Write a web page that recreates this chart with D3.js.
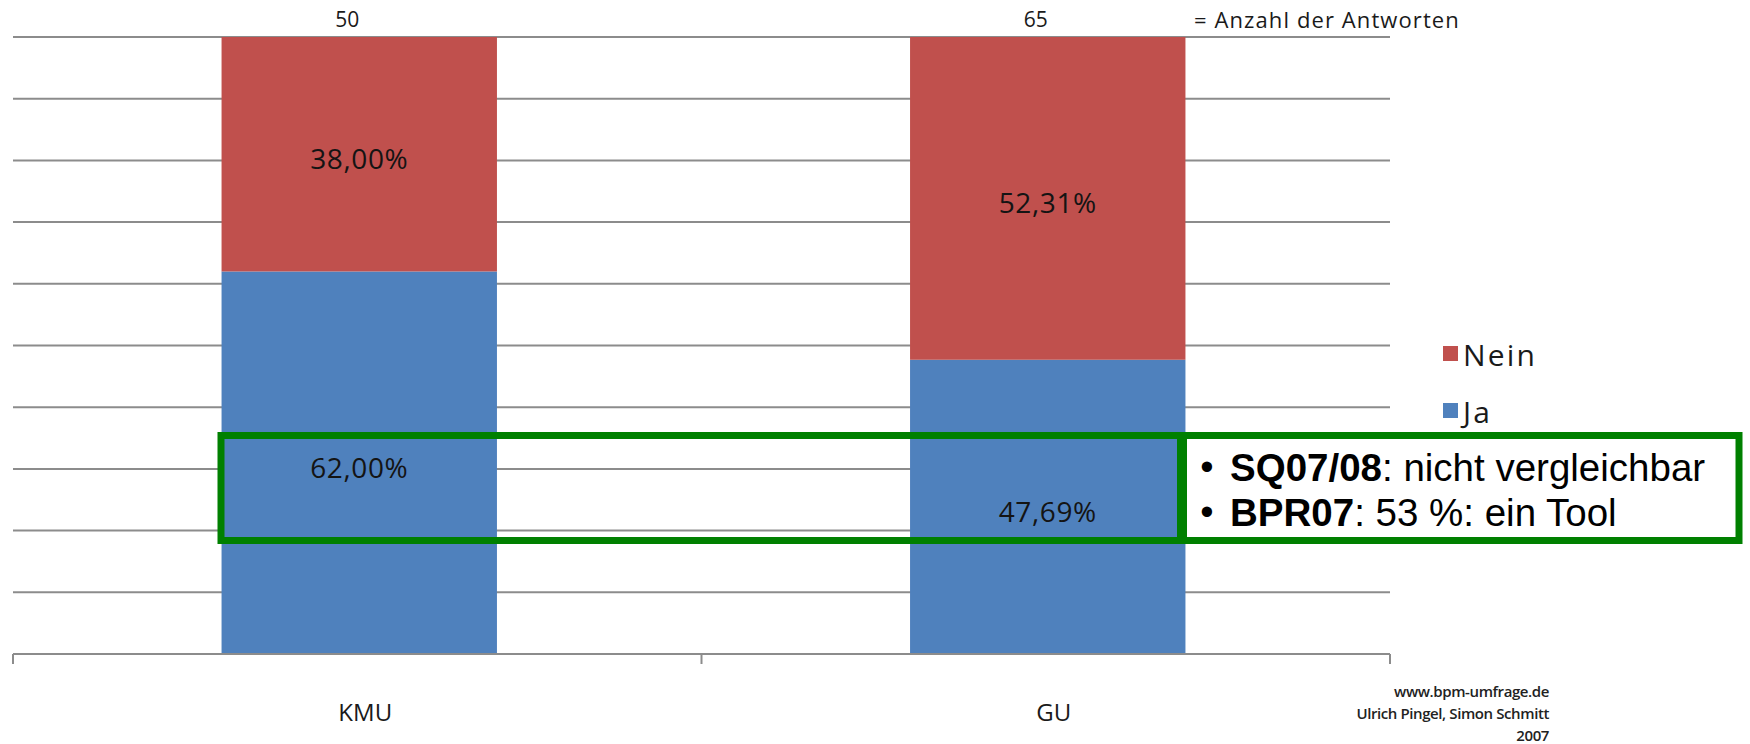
<!DOCTYPE html>
<html>
<head>
<meta charset="utf-8">
<script src="https://cdn.jsdelivr.net/npm/d3@7"></script>
<style>
  body { margin: 0; background: #fff; }
  svg { display: block; }
</style>
</head>
<body>
<div id="chart"></div>
<script>
// chart data
var categories = ["KMU", "GU"];
var jaValues = [62.00, 47.69];
var neinValues = [38.00, 52.31];
var responseCounts = [50, 65];
var yTicks = [0, 10, 20, 30, 40, 50, 60, 70, 80, 90, 100];
var legendLabels = ["Nein", "Ja"];
var noteLines = [["SQ07/08", ": nicht vergleichbar"], ["BPR07", ": 53 %: ein Tool"]];
var sourceLines = ["www.bpm-umfrage.de", "Ulrich Pingel, Simon Schmitt", "2007"];

var W = 1750, H = 744;
var colors = {Ja: "#4f81bd", Nein: "#c0504d"};
var fontMain = "'Open Sans', sans-serif";

var svg = d3.select("#chart")
  .append("svg")
  .attr("width", W)
  .attr("height", H);

//plot area (window.top is reserved, so use other names)
var plotLeft = 13, plotRight = 1390, plotTop = 37, plotBottom = 654;

var xScale = d3.scaleBand()
  .domain(categories)
  .range([plotLeft, plotRight])
  .padding(0);

var yScale = d3.scaleLinear()
  .domain([0, 100])
  .range([plotBottom, plotTop]);

var barW = xScale.bandwidth() * 0.4;
var barShift = 2;

var deFormat = d3.formatLocale({decimal: ",", thousands: ".", grouping: [3], currency: ["", " €"]}).format(".2f");

//gridlines
svg.append("g")
  .selectAll("line")
  .data(yTicks.slice(1))
  .enter()
  .append("line")
  .attr("x1", plotLeft)
  .attr("x2", plotRight)
  .attr("y1", function(d) { return yScale(d); })
  .attr("y2", function(d) { return yScale(d); })
  .attr("stroke", "#8c8c8c")
  .attr("stroke-width", 2);

//stacked bars
var rows = categories.map(function(c, i) {
  return {cat: c, Ja: jaValues[i], Nein: neinValues[i]};
});
var stack = d3.stack().keys(["Ja", "Nein"])(rows);

var layers = svg.selectAll(".layer")
  .data(stack)
  .enter()
  .append("g")
  .attr("class", "layer")
  .attr("fill", function(d) { return colors[d.key]; });

layers.selectAll("rect")
  .data(function(d) { return d; })
  .enter()
  .append("rect")
  .attr("x", function(d) { return xScale(d.data.cat) + (xScale.bandwidth() - barW) / 2 + barShift; })
  .attr("y", function(d) { return yScale(d[1]); })
  .attr("width", barW)
  .attr("height", function(d) { return yScale(d[0]) - yScale(d[1]); });

//value labels
layers.selectAll("text")
  .data(function(d) { return d; })
  .enter()
  .append("text")
  .attr("x", function(d) { return xScale(d.data.cat) + xScale.bandwidth() / 2 + barShift; })
  .attr("y", function(d) { return (yScale(d[0]) + yScale(d[1])) / 2 + 4; })
  .attr("text-anchor", "middle")
  .attr("dominant-baseline", "central")
  .attr("fill", "#141414")
  .style("font-family", fontMain)
  .style("font-size", "28px")
  .style("letter-spacing", "0.6px")
  .text(function(d) { return deFormat(d[1] - d[0]) + "%"; });

//x axis line and ticks
svg.append("line")
  .attr("x1", plotLeft).attr("x2", plotRight)
  .attr("y1", plotBottom).attr("y2", plotBottom)
  .attr("stroke", "#8c8c8c")
  .attr("stroke-width", 2);

var tickPos = categories.map(function(c) { return xScale(c); }).concat([plotRight]);
svg.append("g")
  .selectAll("line")
  .data(tickPos)
  .enter()
  .append("line")
  .attr("x1", function(d) { return d; })
  .attr("x2", function(d) { return d; })
  .attr("y1", plotBottom)
  .attr("y2", plotBottom + 10)
  .attr("stroke", "#8c8c8c")
  .attr("stroke-width", 2);

//category labels
svg.append("g")
  .selectAll("text")
  .data(categories)
  .enter()
  .append("text")
  .attr("x", function(d) { return xScale(d) + xScale.bandwidth() / 2 + 8; })
  .attr("y", 711)
  .attr("text-anchor", "middle")
  .attr("dominant-baseline", "central")
  .attr("fill", "#1a1a1a")
  .style("font-family", fontMain)
  .style("font-size", "24px")
  .text(function(d) { return d; });

//response counts on top
svg.append("g")
  .selectAll("text")
  .data(responseCounts)
  .enter()
  .append("text")
  .attr("x", function(d, i) { return xScale(categories[i]) + xScale.bandwidth() / 2 - 10; })
  .attr("y", 19)
  .attr("text-anchor", "middle")
  .attr("dominant-baseline", "central")
  .attr("fill", "#1a1a1a")
  .style("font-family", fontMain)
  .style("font-size", "21px")
  .text(function(d) { return d; });

svg.append("text")
  .attr("x", 1194)
  .attr("y", 19)
  .attr("dominant-baseline", "central")
  .attr("fill", "#1a1a1a")
  .style("font-family", fontMain)
  .style("font-size", "22px")
  .style("letter-spacing", "1.1px")
  .text("= Anzahl der Antworten");

//legend
var legend = svg.append("g")
  .selectAll("g")
  .data(legendLabels)
  .enter()
  .append("g")
  .attr("transform", function(d, i) { return "translate(1443," + (354 + i * 57) + ")"; });

legend.append("rect")
  .attr("x", 0)
  .attr("y", -8)
  .attr("width", 15)
  .attr("height", 15)
  .attr("fill", function(d) { return colors[d]; });

legend.append("text")
  .attr("x", 20)
  .attr("y", 0)
  .attr("dominant-baseline", "central")
  .attr("fill", "#1a1a1a")
  .style("font-family", fontMain)
  .style("font-size", "30px")
  .style("letter-spacing", "2.2px")
  .text(function(d) { return d; });

//source
svg.append("g")
  .selectAll("text")
  .data(sourceLines)
  .enter()
  .append("text")
  .attr("x", 1549)
  .attr("y", function(d, i) { return 691 + i * 22; })
  .attr("text-anchor", "end")
  .attr("dominant-baseline", "central")
  .attr("fill", "#222")
  .style("font-family", fontMain)
  .style("font-size", "15px")
  .style("font-weight", "600")
  .style("letter-spacing", "-0.4px")
  .text(function(d) { return d; });

//green highlight boxes
svg.append("rect")
  .attr("x", 221).attr("y", 435.5)
  .attr("width", 1180.5 - 221).attr("height", 540.5 - 435.5)
  .attr("fill", "none")
  .attr("stroke", "#008000")
  .attr("stroke-width", 7);

svg.append("rect")
  .attr("x", 1183.5).attr("y", 435.5)
  .attr("width", 1739 - 1183.5).attr("height", 540.5 - 435.5)
  .attr("fill", "#fff")
  .attr("stroke", "#008000")
  .attr("stroke-width", 7);

//note text
var notes = svg.append("g")
  .selectAll("g")
  .data(noteLines)
  .enter()
  .append("g")
  .attr("transform", function(d, i) { return "translate(0," + (467 + i * 45) + ")"; });

notes.append("text")
  .attr("x", 1207)
  .attr("y", 0)
  .attr("text-anchor", "middle")
  .attr("dominant-baseline", "central")
  .style("font-family", "'Liberation Sans', Arial, sans-serif")
  .style("font-size", "38px")
  .text("\u2022");

var noteText = notes.append("text")
  .attr("x", 1230)
  .attr("y", 0)
  .attr("dominant-baseline", "central")
  .attr("fill", "#000")
  .style("font-family", "'Liberation Sans', Arial, sans-serif")
  .style("font-size", "38.5px");

noteText.append("tspan")
  .style("font-weight", "bold")
  .text(function(d) { return d[0]; });
noteText.append("tspan")
  .text(function(d) { return d[1]; });
</script>
</body>
</html>
